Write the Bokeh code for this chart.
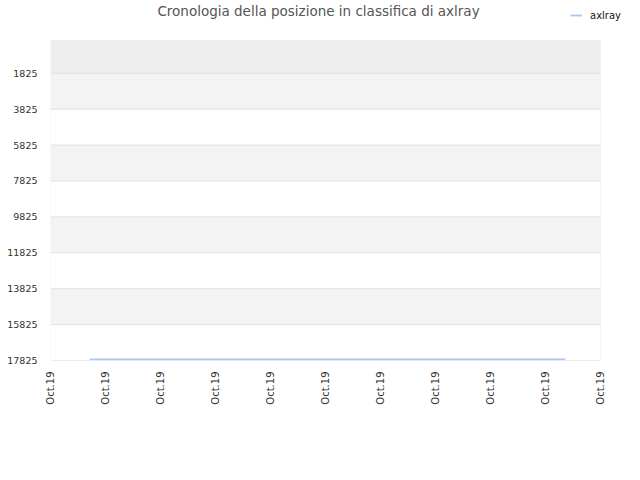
import math
from bokeh.plotting import figure
from bokeh.models import (Range1d, FixedTicker, BoxAnnotation, Legend, LegendItem, Label)
from bokeh.embed import file_html
from bokeh.resources import INLINE

# ---- data ----
title_text = "Cronologia della posizione in classifica di axlray"
series_name = "axlray"
x_tick_positions = [0, 1, 2, 3, 4, 5, 6, 7, 8, 9, 10]
x_tick_labels = ["Oct.19"] * 11
y_ticks = [1825, 3825, 5825, 7825, 9825, 11825, 13825, 15825, 17825]
rank_x = [0.71, 9.36]
rank_y = [17765, 17765]

# ---- layout (pixels) ----
FRAME_W = 582          # data area 550 px + room for legend on the right
FRAME_H = 360          # data area 320 px + 40 px strip for title/legend
DATA_W, DATA_H = 550, 320
x0, x1 = x_tick_positions[0], x_tick_positions[-1]
y_bottom, y_top = y_ticks[-1], 0
x_end = x0 + (x1 - x0) * FRAME_W / DATA_W
y_end = y_top - (y_bottom - y_top) * (FRAME_H - DATA_H) / DATA_H

p = figure(width=632, height=464, output_backend="svg", toolbar_location=None,
           frame_width=FRAME_W, frame_height=FRAME_H,
           x_range=Range1d(x0, x_end), y_range=Range1d(y_bottom, y_end),
           min_border_left=50, min_border_right=0, min_border_top=0,
           min_border_bottom=10)
p.background_fill_color = "white"
p.border_fill_color = "white"
p.outline_line_color = None

# bands
band_edges = [y_top] + y_ticks
for i in range(len(band_edges) - 1):
    if i == 0:
        col = "#eeeeee"
    elif i % 2 == 1:
        col = "#f3f3f3"
    else:
        continue
    p.add_layout(BoxAnnotation(left=x0, right=x1, top=band_edges[i], bottom=band_edges[i + 1],
                               fill_color=col, fill_alpha=1, line_color=None,
                               level="underlay"))

# grid lines within the data area
p.segment(x0=[x0] * len(y_ticks), x1=[x1] * len(y_ticks), y0=y_ticks, y1=y_ticks,
          line_color="#e0e0e0", line_width=1)

# frame border of data area
p.add_layout(BoxAnnotation(left=x0, right=x1, top=y_top, bottom=y_bottom,
                           fill_alpha=0, line_color="#dddddd", line_width=1))

r = p.line(rank_x, rank_y, line_color="#a3cbf5", line_width=1.8)

# axes
p.xaxis.ticker = FixedTicker(ticks=x_tick_positions)
p.xaxis.major_label_overrides = {t: l for t, l in zip(x_tick_positions, x_tick_labels)}
p.xaxis.major_label_orientation = math.pi / 2
p.yaxis.ticker = FixedTicker(ticks=y_ticks)
for ax in (p.xaxis[0], p.yaxis[0]):
    ax.axis_line_color = None
    ax.major_tick_line_color = None
    ax.minor_tick_line_color = None
    ax.major_tick_out = 0
    ax.major_tick_in = 0
    ax.major_label_text_font = "DejaVu Sans"
    ax.major_label_text_color = "#333333"
p.xaxis.major_label_text_font_size = "10px"
p.yaxis.major_label_text_font_size = "9.5px"
p.xaxis.major_label_standoff = 11
p.yaxis.major_label_standoff = 13

p.xgrid.grid_line_color = None
p.ygrid.grid_line_color = None

# title
p.add_layout(Label(x=268, y=FRAME_H - 2, x_units="screen", y_units="screen",
                   text=title_text, text_align="center", text_baseline="top",
                   text_font="DejaVu Sans", text_font_size="13.5px",
                   text_color="#555555"))

legend = Legend(items=[LegendItem(label=series_name, renderers=[r])],
                location=(520, FRAME_H - 21), padding=0, margin=0, spacing=0,
                glyph_width=12, glyph_height=12, label_standoff=8,
                label_text_font="DejaVu Sans", label_text_font_size="10px",
                label_text_color="#111111",
                border_line_color=None, background_fill_alpha=0)
p.add_layout(legend, "center")

open("out.html", "w").write(file_html(p, INLINE))
